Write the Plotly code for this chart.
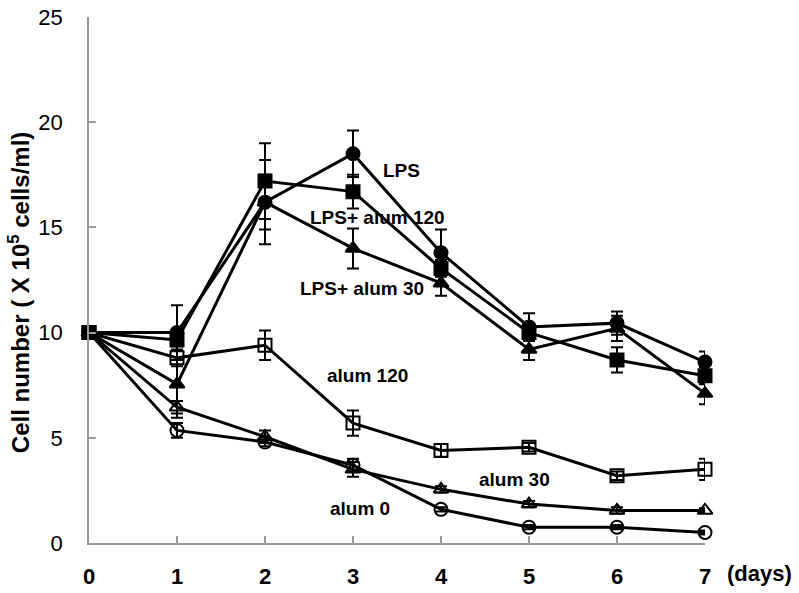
import plotly.graph_objects as go

days = [0, 1, 2, 3, 4, 5, 6, 7]
x_tick_labels = ["0", "1", "2", "3", "4", "5", "6", "7"]
y_tick_vals = [0, 5, 10, 15, 20, 25]

lps = [10, 10.0, 16.2, 18.5, 13.8, 10.27, 10.45, 8.6]
lps_err = [0, 1.3, 2.0, 1.1, 1.1, 0.65, 0.55, 0.5]
lps_a120 = [10, 9.65, 17.2, 16.7, 13.05, 10.0, 8.7, 7.95]
lps_a120_err = [0, 0.3, 1.8, 0.8, 0.4, 0.4, 0.6, 0.4]
lps_a30 = [10, 7.55, 16.2, 14.0, 12.35, 9.2, 10.2, 7.1]
lps_a30_err = [0, 1.6, 1.3, 0.95, 0.6, 0.5, 0.6, 0.5]
alum120 = [10, 8.8, 9.4, 5.7, 4.4, 4.55, 3.2, 3.5]
alum120_err = [0, 0.4, 0.7, 0.6, 0.3, 0.2, 0.2, 0.5]
alum30 = [10, 6.45, 5.05, 3.5, 2.55, 1.85, 1.55, 1.55]
alum30_err = [0, 0.3, 0.3, 0.35, 0.15, 0.15, 0.15, 0.1]
alum0 = [10, 5.35, 4.8, 3.7, 1.6, 0.75, 0.75, 0.5]
alum0_err = [0, 0.35, 0.2, 0.3, 0.1, 0.1, 0.1, 0.1]

series = [
    ("alum 0", alum0, alum0_err, "circle-open"),
    ("alum 30", alum30, alum30_err, "triangle-up-open"),
    ("alum 120", alum120, alum120_err, "square-open"),
    ("LPS+ alum 30", lps_a30, lps_a30_err, "triangle-up"),
    ("LPS+ alum 120", lps_a120, lps_a120_err, "square"),
    ("LPS", lps, lps_err, "circle"),
]

FONT = "Liberation Sans, Arial, sans-serif"

fig = go.Figure()
for name, ys, err, sym in series:
    fig.add_trace(go.Scatter(
        x=days, y=ys, name=name, mode="lines+markers",
        line=dict(color="black", width=3),
        marker=dict(symbol=sym, size=13, color="black",
                    line=dict(color="black", width=2)),
        error_y=dict(type="data", array=err, visible=True,
                     color="black", thickness=2, width=6),
        cliponaxis=False, showlegend=False,
    ))

labels = [
    ("LPS", 3.55, 17.7),
    ("LPS+ alum 120", 3.28, 15.45),
    ("LPS+ alum 30", 3.1, 12.1),
    ("alum 120", 3.16, 7.95),
    ("alum 30", 4.84, 3.0),
    ("alum 0", 3.08, 1.66),
]
for text, lx, ly in labels:
    fig.add_annotation(x=lx, y=ly, text="<b>%s</b>" % text, showarrow=False,
                       font=dict(family=FONT, size=19, color="black"))

fig.add_annotation(x=1.0, xref="paper", xanchor="left", xshift=20,
                   y=0, yref="paper", yanchor="middle", yshift=-30,
                   text="<b>(days)</b>", showarrow=False,
                   font=dict(family=FONT, size=22, color="black"))

fig.add_annotation(x=0, xref="paper", xanchor="center", xshift=-70,
                   y=0.475, yref="paper", yanchor="middle",
                   textangle=-90, showarrow=False,
                   text="<b>Cell number ( X 10<sup>5</sup> cells/ml)</b>",
                   font=dict(family=FONT, size=24, color="black"))

fig.update_layout(
    width=799, height=593,
    margin=dict(l=89, r=94, t=17, b=50),
    plot_bgcolor="white", paper_bgcolor="white",
    font=dict(family=FONT, color="black"),
)
fig.update_xaxes(
    range=[0, 7], tickvals=days, ticktext=["<b>%s</b>" % t for t in x_tick_labels],
    showgrid=False, zeroline=False, showline=True, linecolor="#999999", linewidth=1.5,
    ticks="inside", ticklen=7, tickcolor="#999999", tickwidth=1.5,
    tickfont=dict(family=FONT, size=22, color="black"),
    ticklabelstandoff=13, automargin=False,
)
fig.update_yaxes(
    range=[0, 25], tickvals=y_tick_vals,
    showgrid=False, zeroline=False, showline=True, linecolor="#999999", linewidth=1.5,
    ticks="inside", ticklen=7, tickcolor="#999999", tickwidth=1.5,
    tickfont=dict(family=FONT, size=22, color="black"),
    ticklabelstandoff=20, automargin=False,
)

fig.write_html("out.html", config={"displayModeBar": False},
               post_script="document.body.style.margin='0px';")
